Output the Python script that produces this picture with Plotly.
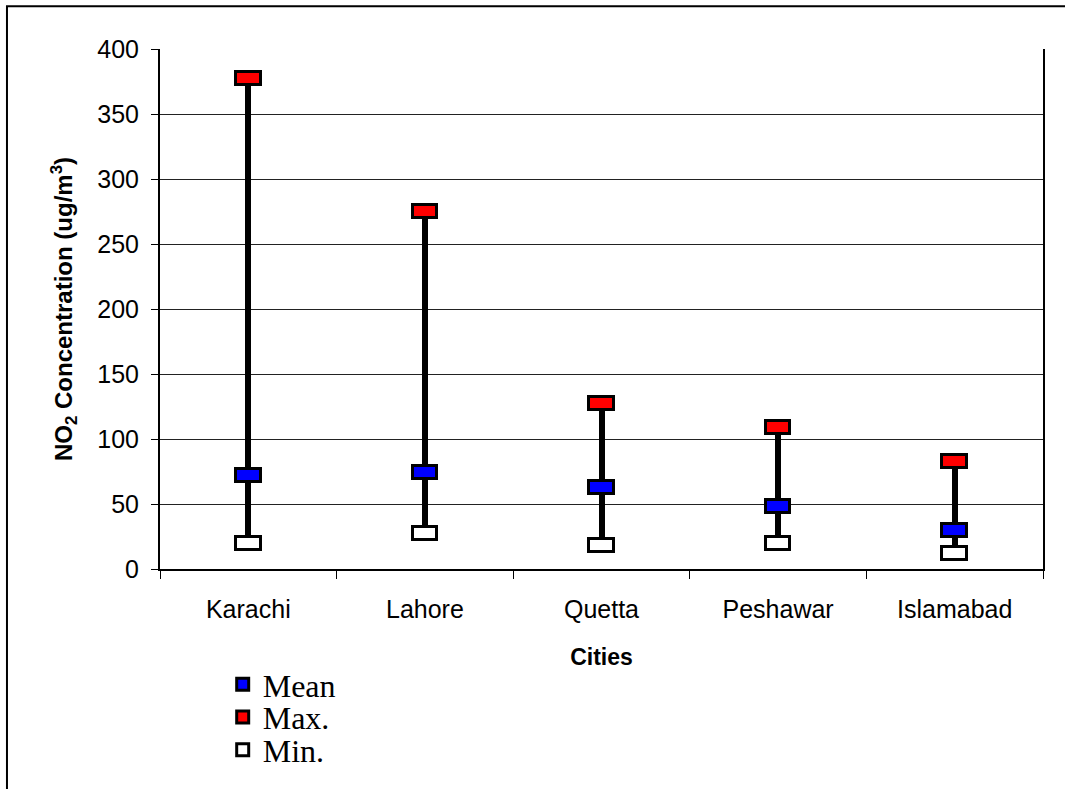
import plotly.graph_objects as go

# ---- data ----
cities = ["Karachi", "Lahore", "Quetta", "Peshawar", "Islamabad"]
mean_vals = [72, 74, 63, 48, 30]
max_vals = [377, 275, 127, 109, 83]
min_vals = [20, 27, 18, 20, 12]
y_ticks = [0, 50, 100, 150, 200, 250, 300, 350, 400]

# ---- style constants ----
MARK_H = 10      # marker height in data units
MARK_W = 0.14    # marker width as a fraction of the category
STEM_W = 0.034   # high-low line width as a fraction of the category
SANS = "Liberation Sans, Arial, sans-serif"
SERIF = "Liberation Serif, Times New Roman, serif"

fig = go.Figure()

# high-low line (min to max)
fig.add_trace(go.Bar(
    x=cities,
    y=[mx - mn for mx, mn in zip(max_vals, min_vals)],
    base=min_vals,
    width=STEM_W,
    marker=dict(color="black", line=dict(width=0)),
    showlegend=False,
    hoverinfo="skip",
))


def marker_trace(name, vals, color, legend, rank):
    return go.Bar(
        x=cities,
        y=[MARK_H] * len(vals),
        base=[v - MARK_H / 2 for v in vals],
        width=MARK_W,
        marker=dict(color=color, line=dict(color="black", width=3)),
        name=name,
        legend=legend,
        legendrank=rank,
        customdata=vals,
        hovertemplate="%{x}: %{customdata}<extra>" + name + "</extra>",
    )


fig.add_trace(marker_trace("Min.", min_vals, "white", "legend3", 3))
fig.add_trace(marker_trace("Mean", mean_vals, "#0000ff", "legend", 1))
fig.add_trace(marker_trace("Max.", max_vals, "#ff0000", "legend2", 2))

leg_common = dict(
    xanchor="left", yanchor="middle",
    font=dict(family=SERIF, size=32, color="black"),
    bgcolor="rgba(0,0,0,0)", borderwidth=0,
)

fig.update_layout(
    width=1065, height=789,
    margin=dict(l=160, r=22, t=49, b=217),
    paper_bgcolor="white", plot_bgcolor="white",
    barmode="overlay",
    bargap=0,
    font=dict(family=SANS, size=25, color="black"),
    legend=dict(x=0.071, y=-0.2218, **leg_common),
    legend2=dict(x=0.071, y=-0.2849, **leg_common),
    legend3=dict(x=0.071, y=-0.348, **leg_common),
    xaxis=dict(
        range=[-0.5, 4.5],
        tickson="boundaries",
        ticks="outside", ticklen=8, tickwidth=1, tickcolor="black",
        ticklabelstandoff=17,
        showline=True, linecolor="black", linewidth=2,
        showgrid=False,
        tickfont=dict(family=SANS, size=25, color="black"),
        title=dict(text="<b>Cities</b>", font=dict(family=SANS, size=23, color="black"),
                   standoff=27),
    ),
    yaxis=dict(
        range=[0, 400],
        tickvals=y_ticks,
        ticks="outside", ticklen=7, tickwidth=1, tickcolor="black",
        ticklabelstandoff=7,
        showline=True, linecolor="black", linewidth=2, mirror=True,
        showgrid=True, gridcolor="#222222", gridwidth=1,
        zeroline=False,
        tickfont=dict(family=SANS, size=25, color="black"),
        title=dict(text="<b>NO<sub>2</sub> Concentration (ug/m<sup>3</sup>)</b>",
                   font=dict(family=SANS, size=24, color="black"),
                   standoff=18),
    ),
    shapes=[dict(
        type="rect", xref="paper", yref="paper",
        x0=-0.1733, x1=1.045, y0=-0.44, y1=1.0822,
        line=dict(color="black", width=2), fillcolor="rgba(0,0,0,0)",
        layer="above",
    )],
)

fig.write_html("out.html", config={"displayModeBar": False},
               post_script="document.body.style.margin='0px';")
